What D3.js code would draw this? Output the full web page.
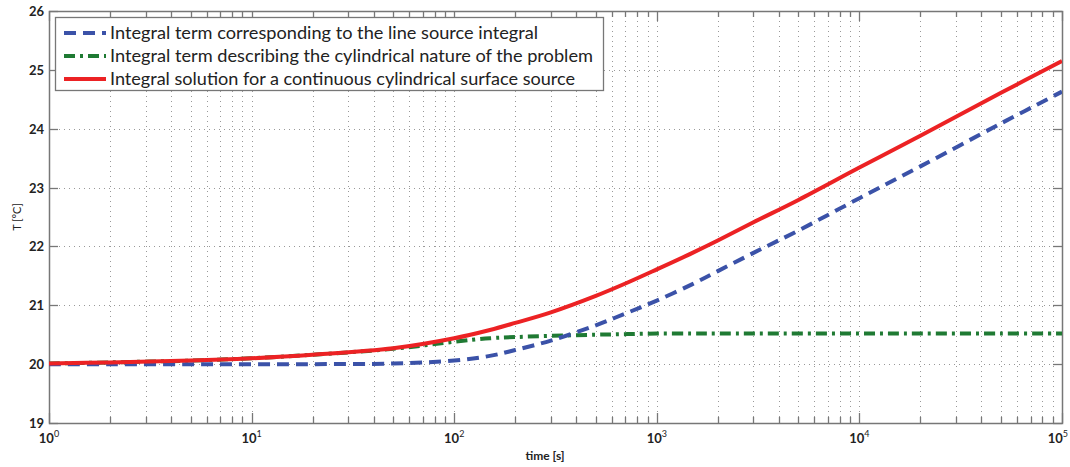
<!DOCTYPE html>
<html><head><meta charset="utf-8">
<script src="https://cdn.jsdelivr.net/npm/d3@7"></script>
<style>body{margin:0;background:#fff}svg{display:block}text{font-family:Lato,"Open Sans",sans-serif;fill:#222}</style>
</head><body><svg id="c" width="1070" height="467"></svg>
<script>
const times = [1,2,5,10,20,50,100,150,200,300,500,700,1000,1500,2000,3000,5000,10000,20000,50000,100000];
const lineSource = [20.00,20.00,20.00,20.00,20.00,20.01,20.06,20.14,20.24,20.40,20.66,20.86,21.08,21.36,21.58,21.89,22.27,22.82,23.36,24.09,24.63];
const cylTerm = [20.01,20.03,20.06,20.10,20.16,20.26,20.38,20.44,20.46,20.48,20.50,20.51,20.52,20.52,20.52,20.52,20.52,20.52,20.52,20.52,20.52];
const surfaceSource = [20.01,20.03,20.06,20.10,20.16,20.27,20.44,20.58,20.70,20.88,21.16,21.37,21.61,21.89,22.10,22.41,22.79,23.34,23.88,24.61,25.15];
const yTicks = [19,20,21,22,23,24,25,26];
const xMajor = [1,10,100,1000,10000,100000];
const seriesNames = ["Integral term corresponding to the line source integral","Integral term describing the cylindrical nature of the problem","Integral solution for a continuous cylindrical surface source"];
const xTitle = "time [s]", yTitle = "T [°C]";

const L=49,R=1062,T=11,B=423;
const svg=d3.select("#c");
const x=d3.scaleLog().domain([1,1e5]).range([L,R]);
const y=d3.scaleLinear().domain([19,26]).range([B,T]);
const minor=[];
for(let d=1;d<1e5;d*=10) for(let k=2;k<=9;k++) minor.push(d*k);

// grid
const g=svg.append("g");
g.selectAll(".vx").data(minor.concat(xMajor.slice(1,-1))).enter().append("line")
 .attr("x1",d=>Math.round(x(d))+0.5).attr("x2",d=>Math.round(x(d))+0.5).attr("y1",T).attr("y2",B)
 .attr("stroke","#999").attr("stroke-width",1).attr("stroke-dasharray","1,4");
g.selectAll(".hy").data(yTicks.slice(1,-1)).enter().append("line")
 .attr("x1",L).attr("x2",R).attr("y1",d=>Math.round(y(d))+0.5).attr("y2",d=>Math.round(y(d))+0.5)
 .attr("stroke","#999").attr("stroke-width",1).attr("stroke-dasharray","1,4");

// ticks
const ax=svg.append("g").attr("stroke","#777").attr("stroke-width",1.3);
minor.forEach(d=>{const xx=Math.round(x(d))+0.5;
 ax.append("line").attr("x1",xx).attr("x2",xx).attr("y1",B).attr("y2",B-6);
 ax.append("line").attr("x1",xx).attr("x2",xx).attr("y1",T).attr("y2",T+6);});
xMajor.forEach(d=>{const xx=Math.round(x(d))+0.5;
 ax.append("line").attr("x1",xx).attr("x2",xx).attr("y1",B).attr("y2",B-10);
 ax.append("line").attr("x1",xx).attr("x2",xx).attr("y1",T).attr("y2",T+10);});
yTicks.forEach(d=>{const yy=Math.round(y(d))+0.5;
 ax.append("line").attr("x1",L).attr("x2",L+9).attr("y1",yy).attr("y2",yy);
 ax.append("line").attr("x1",R).attr("x2",R-9).attr("y1",yy).attr("y2",yy);});
svg.append("rect").attr("x",L+0.5).attr("y",T+0.5).attr("width",R-L).attr("height",B-T)
 .attr("fill","none").attr("stroke","#777").attr("stroke-width",1.5);

// tick labels
svg.selectAll(".yl").data(yTicks).enter().append("text").attr("x",L-5).attr("y",d=>y(d)+5)
 .attr("text-anchor","end").attr("font-size",13).attr("font-weight","bold").text(d=>d);
xMajor.forEach((d,i)=>{
 const last=i===xMajor.length-1;
 const t=svg.append("text").attr("x",last?1068:x(d)).attr("y",B+20).attr("text-anchor",last?"end":"middle")
  .attr("font-size",13).attr("font-weight","bold");
 t.append("tspan").text("10");
 t.append("tspan").attr("dy",-6).attr("font-size",9).attr("font-weight","normal").text(Math.round(Math.log10(d)));});
svg.append("text").attr("x",545).attr("y",460).attr("text-anchor","middle").attr("font-size",12).attr("font-weight","bold").text(xTitle);
svg.append("text").attr("transform","translate(21,217) rotate(-90)").attr("text-anchor","middle").attr("font-size",11).text(yTitle);

// lines
const styles=[{c:"#3b52a8",dash:"12,7"},{c:"#1f7a33",dash:"11,5,3,5"},{c:"#ec2224",dash:null}];
const datas=[lineSource,cylTerm,surfaceSource];
const line=d3.line().x(d=>x(d[0])).y(d=>y(d[1])).curve(d3.curveCatmullRom.alpha(0.5));
svg.append("clipPath").attr("id","cp").append("rect").attr("x",L).attr("y",T).attr("width",R-L).attr("height",B-T);
[1,0,2].forEach(i=>{
 svg.append("path").attr("clip-path","url(#cp)").datum(times.map((t,j)=>[t,datas[i][j]])).attr("d",line)
  .attr("fill","none").attr("stroke",styles[i].c).attr("stroke-width",4).attr("stroke-dasharray",styles[i].dash);
});

// legend
svg.append("rect").attr("x",55.5).attr("y",17.5).attr("width",548).attr("height",73).attr("fill","#fff").attr("stroke","#777").attr("stroke-width",1.3);
const ly=[33,56,79];
const lens=[428,483,465];
seriesNames.forEach((n,i)=>{
 svg.append("line").attr("x1",64).attr("x2",106).attr("y1",ly[i]).attr("y2",ly[i]).attr("stroke",styles[i].c)
  .attr("stroke-width",4).attr("stroke-dasharray",styles[i].dash);
 svg.append("text").attr("x",110).attr("y",ly[i]+6).attr("font-size",17).attr("textLength",lens[i]).attr("lengthAdjust","spacingAndGlyphs").text(n);
});
</script></body></html>
